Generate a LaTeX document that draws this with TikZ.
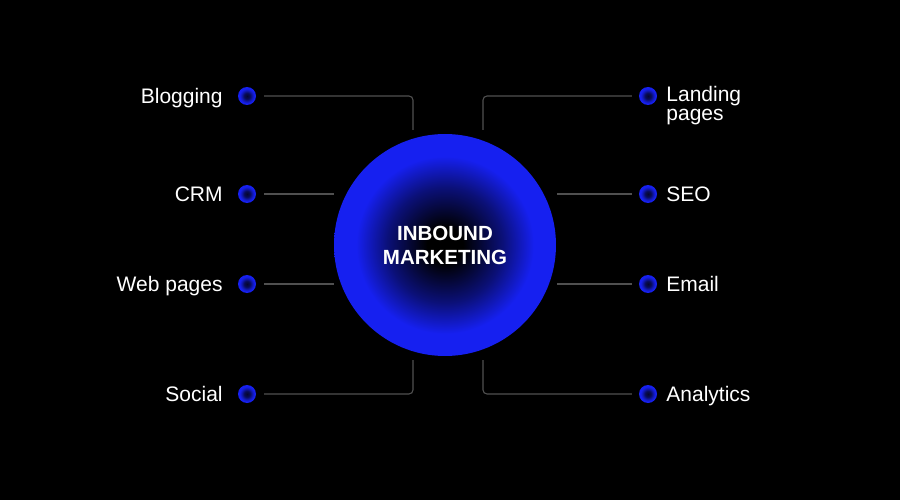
\documentclass[tikz,border=0pt]{standalone}
\usepackage{fontspec}
\setmainfont{Liberation Sans}
\usetikzlibrary{positioning}
\definecolor{orbblue}{RGB}{22,32,240}
\definecolor{wire}{RGB}{80,80,80}
\pgfdeclareradialshading{orb}{\pgfpoint{0bp}{0bp}}{color(0bp)=(black); color(4bp)=(black); color(13bp)=(black!50!orbblue); color(20bp)=(orbblue); color(25bp)=(orbblue); color(50bp)=(orbblue)}
\pgfdeclareradialshading{bead}{\pgfpoint{0bp}{0bp}}{color(0bp)=(black!80!orbblue); color(8bp)=(black!65!orbblue); color(16bp)=(black!20!orbblue); color(21bp)=(orbblue); color(25bp)=(orbblue); color(50bp)=(orbblue)}

\begin{document}
\begin{tikzpicture}[x=1pt, y=-1pt,
      every node/.style={font=\fontsize{21}{19}\selectfont, text=white},
      bead/.style={circle, shading=bead, minimum size=18pt, inner sep=0pt},
      lbl/.style={inner sep=0pt, text height=15pt, text depth=0pt},
      wire/.style={draw=wire, line width=1.1pt, rounded corners=4pt}]
    \fill[black] (0,0) rectangle (900,500);
    \node[circle, shading=orb, minimum size=222pt, inner sep=0pt, align=center,
          font=\bfseries\fontsize{20.5}{24}\selectfont] (hub) at (445,245) {INBOUND\\MARKETING};
    % left side
    \node[bead] (bblog) at (247,96) {};
    \node[lbl, left=15pt of bblog] (tblog) {Blogging};
    \node[bead] (bcrm) at (247,194) {};
    \node[lbl, left=15pt of bcrm] (tcrm) {CRM};
    \node[bead] (bweb) at (247,284) {};
    \node[lbl, left=15pt of bweb] (tweb) {Web pages};
    \node[bead] (bsoc) at (247,394) {};
    \node[lbl, left=15pt of bsoc] (tsoc) {Social};
    % right side
    \node[bead] (bland) at (648,96) {};
    \node[inner sep=0pt, align=left, right=9pt of bland, yshift=-10pt] (tland) {Landing\\pages};
    \node[bead] (bseo) at (648,194) {};
    \node[lbl, right=9pt of bseo] (tseo) {SEO};
    \node[bead] (bmail) at (648,284) {};
    \node[lbl, right=9pt of bmail] (tmail) {Email};
    \node[bead] (bana) at (648,394) {};
    \node[lbl, right=9pt of bana] (tana) {Analytics};
    % wire ends near the hub
    \coordinate (kblog) at (413,130);
    \coordinate (kcrm) at (334,194);
    \coordinate (kweb) at (334,284);
    \coordinate (ksoc) at (413,360);
    \coordinate (kland) at (483,130);
    \coordinate (kseo) at (557,194);
    \coordinate (kmail) at (557,284);
    \coordinate (kana) at (483,360);
    \draw[wire] ([xshift=8pt]bblog.east) -| (kblog);
    \draw[wire] ([xshift=8pt]bcrm.east) -- (kcrm);
    \draw[wire] ([xshift=8pt]bweb.east) -- (kweb);
    \draw[wire] ([xshift=8pt]bsoc.east) -| (ksoc);
    \draw[wire] ([xshift=-7pt]bland.west) -| (kland);
    \draw[wire] ([xshift=-7pt]bseo.west) -- (kseo);
    \draw[wire] ([xshift=-7pt]bmail.west) -- (kmail);
    \draw[wire] ([xshift=-7pt]bana.west) -| (kana);
\end{tikzpicture}
\end{document}
